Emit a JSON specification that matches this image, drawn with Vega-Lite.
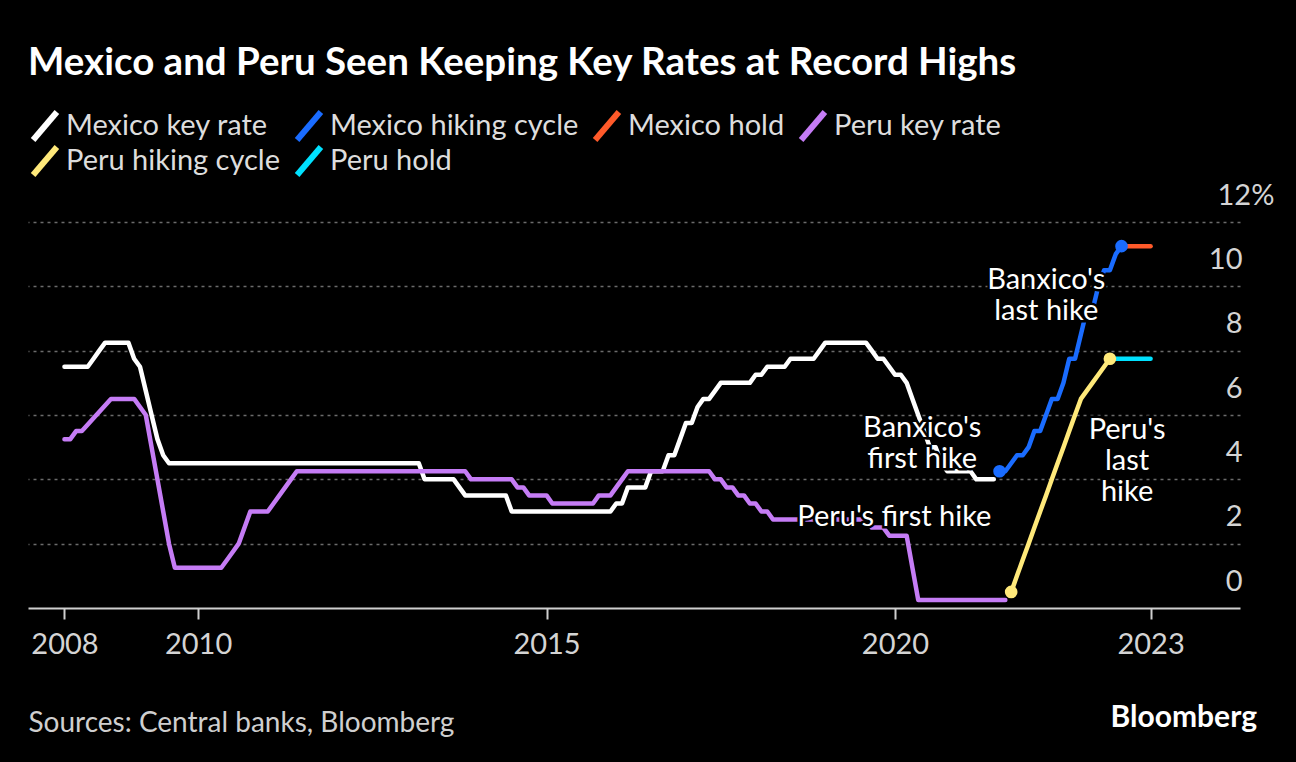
{
  "$schema": "https://vega.github.io/schema/vega-lite/v6.json",
  "width": 1212,
  "height": 386,
  "autosize": {"type": "none"},
  "padding": {"left": 28, "top": 222, "right": 56, "bottom": 154},
  "background": "black",
  "title": {
    "text": "Mexico and Peru Seen Keeping Key Rates at Record Highs",
    "anchor": "start",
    "frame": "group",
    "fontSize": 38.5,
    "fontWeight": "bold",
    "color": "white",
    "offset": 26
  },
  "datasets": {
    "rates": [
      {"series": "Mexico key rate", "t": 2008.083, "v": 7.5},
      {"series": "Mexico key rate", "t": 2008.417, "v": 7.5},
      {"series": "Mexico key rate", "t": 2008.5, "v": 7.75},
      {"series": "Mexico key rate", "t": 2008.583, "v": 8.0},
      {"series": "Mexico key rate", "t": 2008.667, "v": 8.25},
      {"series": "Mexico key rate", "t": 2009.0, "v": 8.25},
      {"series": "Mexico key rate", "t": 2009.083, "v": 7.75},
      {"series": "Mexico key rate", "t": 2009.167, "v": 7.5},
      {"series": "Mexico key rate", "t": 2009.25, "v": 6.75},
      {"series": "Mexico key rate", "t": 2009.333, "v": 6.0},
      {"series": "Mexico key rate", "t": 2009.417, "v": 5.25},
      {"series": "Mexico key rate", "t": 2009.5, "v": 4.75},
      {"series": "Mexico key rate", "t": 2009.583, "v": 4.5},
      {"series": "Mexico key rate", "t": 2013.167, "v": 4.5},
      {"series": "Mexico key rate", "t": 2013.25, "v": 4.0},
      {"series": "Mexico key rate", "t": 2013.667, "v": 4.0},
      {"series": "Mexico key rate", "t": 2013.75, "v": 3.75},
      {"series": "Mexico key rate", "t": 2013.833, "v": 3.5},
      {"series": "Mexico key rate", "t": 2014.417, "v": 3.5},
      {"series": "Mexico key rate", "t": 2014.5, "v": 3.0},
      {"series": "Mexico key rate", "t": 2015.917, "v": 3.0},
      {"series": "Mexico key rate", "t": 2016.0, "v": 3.25},
      {"series": "Mexico key rate", "t": 2016.083, "v": 3.25},
      {"series": "Mexico key rate", "t": 2016.167, "v": 3.75},
      {"series": "Mexico key rate", "t": 2016.417, "v": 3.75},
      {"series": "Mexico key rate", "t": 2016.5, "v": 4.25},
      {"series": "Mexico key rate", "t": 2016.667, "v": 4.25},
      {"series": "Mexico key rate", "t": 2016.75, "v": 4.75},
      {"series": "Mexico key rate", "t": 2016.833, "v": 4.75},
      {"series": "Mexico key rate", "t": 2016.917, "v": 5.25},
      {"series": "Mexico key rate", "t": 2017.0, "v": 5.75},
      {"series": "Mexico key rate", "t": 2017.083, "v": 5.75},
      {"series": "Mexico key rate", "t": 2017.167, "v": 6.25},
      {"series": "Mexico key rate", "t": 2017.25, "v": 6.5},
      {"series": "Mexico key rate", "t": 2017.333, "v": 6.5},
      {"series": "Mexico key rate", "t": 2017.417, "v": 6.75},
      {"series": "Mexico key rate", "t": 2017.5, "v": 7.0},
      {"series": "Mexico key rate", "t": 2017.917, "v": 7.0},
      {"series": "Mexico key rate", "t": 2018.0, "v": 7.25},
      {"series": "Mexico key rate", "t": 2018.083, "v": 7.25},
      {"series": "Mexico key rate", "t": 2018.167, "v": 7.5},
      {"series": "Mexico key rate", "t": 2018.417, "v": 7.5},
      {"series": "Mexico key rate", "t": 2018.5, "v": 7.75},
      {"series": "Mexico key rate", "t": 2018.833, "v": 7.75},
      {"series": "Mexico key rate", "t": 2018.917, "v": 8.0},
      {"series": "Mexico key rate", "t": 2019.0, "v": 8.25},
      {"series": "Mexico key rate", "t": 2019.583, "v": 8.25},
      {"series": "Mexico key rate", "t": 2019.667, "v": 8.0},
      {"series": "Mexico key rate", "t": 2019.75, "v": 7.75},
      {"series": "Mexico key rate", "t": 2019.833, "v": 7.75},
      {"series": "Mexico key rate", "t": 2019.917, "v": 7.5},
      {"series": "Mexico key rate", "t": 2020.0, "v": 7.25},
      {"series": "Mexico key rate", "t": 2020.083, "v": 7.25},
      {"series": "Mexico key rate", "t": 2020.167, "v": 7.0},
      {"series": "Mexico key rate", "t": 2020.25, "v": 6.5},
      {"series": "Mexico key rate", "t": 2020.333, "v": 6.0},
      {"series": "Mexico key rate", "t": 2020.417, "v": 5.5},
      {"series": "Mexico key rate", "t": 2020.5, "v": 5.0},
      {"series": "Mexico key rate", "t": 2020.583, "v": 5.0},
      {"series": "Mexico key rate", "t": 2020.667, "v": 4.5},
      {"series": "Mexico key rate", "t": 2020.75, "v": 4.25},
      {"series": "Mexico key rate", "t": 2021.083, "v": 4.25},
      {"series": "Mexico key rate", "t": 2021.167, "v": 4.0},
      {"series": "Mexico key rate", "t": 2021.417, "v": 4.0},
      {"series": "Peru key rate", "t": 2008.083, "v": 5.25},
      {"series": "Peru key rate", "t": 2008.167, "v": 5.25},
      {"series": "Peru key rate", "t": 2008.25, "v": 5.5},
      {"series": "Peru key rate", "t": 2008.333, "v": 5.5},
      {"series": "Peru key rate", "t": 2008.75, "v": 6.5},
      {"series": "Peru key rate", "t": 2009.083, "v": 6.5},
      {"series": "Peru key rate", "t": 2009.167, "v": 6.25},
      {"series": "Peru key rate", "t": 2009.25, "v": 6.0},
      {"series": "Peru key rate", "t": 2009.333, "v": 5.0},
      {"series": "Peru key rate", "t": 2009.417, "v": 4.0},
      {"series": "Peru key rate", "t": 2009.5, "v": 3.0},
      {"series": "Peru key rate", "t": 2009.583, "v": 2.0},
      {"series": "Peru key rate", "t": 2009.667, "v": 1.25},
      {"series": "Peru key rate", "t": 2010.333, "v": 1.25},
      {"series": "Peru key rate", "t": 2010.417, "v": 1.5},
      {"series": "Peru key rate", "t": 2010.5, "v": 1.75},
      {"series": "Peru key rate", "t": 2010.583, "v": 2.0},
      {"series": "Peru key rate", "t": 2010.667, "v": 2.5},
      {"series": "Peru key rate", "t": 2010.75, "v": 3.0},
      {"series": "Peru key rate", "t": 2011.0, "v": 3.0},
      {"series": "Peru key rate", "t": 2011.083, "v": 3.25},
      {"series": "Peru key rate", "t": 2011.167, "v": 3.5},
      {"series": "Peru key rate", "t": 2011.25, "v": 3.75},
      {"series": "Peru key rate", "t": 2011.333, "v": 4.0},
      {"series": "Peru key rate", "t": 2011.417, "v": 4.25},
      {"series": "Peru key rate", "t": 2013.833, "v": 4.25},
      {"series": "Peru key rate", "t": 2013.917, "v": 4.0},
      {"series": "Peru key rate", "t": 2014.5, "v": 4.0},
      {"series": "Peru key rate", "t": 2014.583, "v": 3.75},
      {"series": "Peru key rate", "t": 2014.667, "v": 3.75},
      {"series": "Peru key rate", "t": 2014.75, "v": 3.5},
      {"series": "Peru key rate", "t": 2015.0, "v": 3.5},
      {"series": "Peru key rate", "t": 2015.083, "v": 3.25},
      {"series": "Peru key rate", "t": 2015.667, "v": 3.25},
      {"series": "Peru key rate", "t": 2015.75, "v": 3.5},
      {"series": "Peru key rate", "t": 2015.917, "v": 3.5},
      {"series": "Peru key rate", "t": 2016.0, "v": 3.75},
      {"series": "Peru key rate", "t": 2016.083, "v": 4.0},
      {"series": "Peru key rate", "t": 2016.167, "v": 4.25},
      {"series": "Peru key rate", "t": 2017.333, "v": 4.25},
      {"series": "Peru key rate", "t": 2017.417, "v": 4.0},
      {"series": "Peru key rate", "t": 2017.5, "v": 4.0},
      {"series": "Peru key rate", "t": 2017.583, "v": 3.75},
      {"series": "Peru key rate", "t": 2017.667, "v": 3.75},
      {"series": "Peru key rate", "t": 2017.75, "v": 3.5},
      {"series": "Peru key rate", "t": 2017.833, "v": 3.5},
      {"series": "Peru key rate", "t": 2017.917, "v": 3.25},
      {"series": "Peru key rate", "t": 2018.0, "v": 3.25},
      {"series": "Peru key rate", "t": 2018.083, "v": 3.0},
      {"series": "Peru key rate", "t": 2018.167, "v": 3.0},
      {"series": "Peru key rate", "t": 2018.25, "v": 2.75},
      {"series": "Peru key rate", "t": 2019.583, "v": 2.75},
      {"series": "Peru key rate", "t": 2019.667, "v": 2.5},
      {"series": "Peru key rate", "t": 2019.833, "v": 2.5},
      {"series": "Peru key rate", "t": 2019.917, "v": 2.25},
      {"series": "Peru key rate", "t": 2020.167, "v": 2.25},
      {"series": "Peru key rate", "t": 2020.25, "v": 1.25},
      {"series": "Peru key rate", "t": 2020.333, "v": 0.25},
      {"series": "Peru key rate", "t": 2021.583, "v": 0.25},
      {"series": "Mexico hiking cycle", "t": 2021.5, "v": 4.25},
      {"series": "Mexico hiking cycle", "t": 2021.583, "v": 4.25},
      {"series": "Mexico hiking cycle", "t": 2021.667, "v": 4.5},
      {"series": "Mexico hiking cycle", "t": 2021.75, "v": 4.75},
      {"series": "Mexico hiking cycle", "t": 2021.833, "v": 4.75},
      {"series": "Mexico hiking cycle", "t": 2021.917, "v": 5.0},
      {"series": "Mexico hiking cycle", "t": 2022.0, "v": 5.5},
      {"series": "Mexico hiking cycle", "t": 2022.083, "v": 5.5},
      {"series": "Mexico hiking cycle", "t": 2022.167, "v": 6.0},
      {"series": "Mexico hiking cycle", "t": 2022.25, "v": 6.5},
      {"series": "Mexico hiking cycle", "t": 2022.333, "v": 6.5},
      {"series": "Mexico hiking cycle", "t": 2022.417, "v": 7.0},
      {"series": "Mexico hiking cycle", "t": 2022.5, "v": 7.75},
      {"series": "Mexico hiking cycle", "t": 2022.583, "v": 7.75},
      {"series": "Mexico hiking cycle", "t": 2022.667, "v": 8.5},
      {"series": "Mexico hiking cycle", "t": 2022.75, "v": 9.25},
      {"series": "Mexico hiking cycle", "t": 2022.833, "v": 9.25},
      {"series": "Mexico hiking cycle", "t": 2022.917, "v": 10.0},
      {"series": "Mexico hiking cycle", "t": 2023.0, "v": 10.5},
      {"series": "Mexico hiking cycle", "t": 2023.083, "v": 10.5},
      {"series": "Mexico hiking cycle", "t": 2023.167, "v": 11.0},
      {"series": "Mexico hiking cycle", "t": 2023.25, "v": 11.25},
      {"series": "Mexico hold", "t": 2023.25, "v": 11.25},
      {"series": "Mexico hold", "t": 2023.667, "v": 11.25},
      {"series": "Peru hiking cycle", "t": 2021.667, "v": 0.5},
      {"series": "Peru hiking cycle", "t": 2021.75, "v": 1.0},
      {"series": "Peru hiking cycle", "t": 2021.833, "v": 1.5},
      {"series": "Peru hiking cycle", "t": 2021.917, "v": 2.0},
      {"series": "Peru hiking cycle", "t": 2022.0, "v": 2.5},
      {"series": "Peru hiking cycle", "t": 2022.083, "v": 3.0},
      {"series": "Peru hiking cycle", "t": 2022.167, "v": 3.5},
      {"series": "Peru hiking cycle", "t": 2022.25, "v": 4.0},
      {"series": "Peru hiking cycle", "t": 2022.333, "v": 4.5},
      {"series": "Peru hiking cycle", "t": 2022.417, "v": 5.0},
      {"series": "Peru hiking cycle", "t": 2022.5, "v": 5.5},
      {"series": "Peru hiking cycle", "t": 2022.583, "v": 6.0},
      {"series": "Peru hiking cycle", "t": 2022.667, "v": 6.5},
      {"series": "Peru hiking cycle", "t": 2022.75, "v": 6.75},
      {"series": "Peru hiking cycle", "t": 2022.833, "v": 7.0},
      {"series": "Peru hiking cycle", "t": 2022.917, "v": 7.25},
      {"series": "Peru hiking cycle", "t": 2023.0, "v": 7.5},
      {"series": "Peru hiking cycle", "t": 2023.083, "v": 7.75},
      {"series": "Peru hold", "t": 2023.083, "v": 7.75},
      {"series": "Peru hold", "t": 2023.667, "v": 7.75}
    ],
    "dots": [
      {"series": "Mexico hiking cycle", "t": 2021.5, "v": 4.25},
      {"series": "Mexico hiking cycle", "t": 2023.25, "v": 11.25},
      {"series": "Peru hiking cycle", "t": 2021.667, "v": 0.5},
      {"series": "Peru hiking cycle", "t": 2023.083, "v": 7.75}
    ],
    "notes": [
      {"note": "Banxico's\nlast hike", "t": 2022.17, "v": 10.2},
      {"note": "Banxico's\nfirst hike", "t": 2020.39, "v": 5.6},
      {"note": "Peru's\nlast\nhike", "t": 2023.33, "v": 5.54},
      {"note": "Peru's first hike", "t": 2019.99, "v": 2.84}
    ],
    "brand": [
      {"brand": "Bloomberg", "t": 2024.95, "v": 0}
    ]
  },
  "encoding": {
    "x": {
      "field": "t",
      "type": "quantitative",
      "scale": {"domain": [2007.56, 2024.95], "nice": false, "zero": false},
      "axis": {
        "values": [2008.083, 2010, 2015, 2020, 2023.667],
        "labelExpr": "'' + floor(datum.value)",
        "grid": false,
        "domainColor": "#cfcfcf",
        "domainWidth": 2,
        "tickColor": "#cfcfcf",
        "tickWidth": 2,
        "tickSize": 11,
        "labelColor": "#d4d4d4",
        "labelFontSize": 29,
        "labelPadding": 11,
        "labelFlush": false,
        "title": "Sources: Central banks, Bloomberg",
        "titleAnchor": "start",
        "titleAlign": "left",
        "titleFontSize": 28,
        "titleFontWeight": "normal",
        "titleColor": "#cfcfcf",
        "titlePadding": 50,
        "zindex": 1
      }
    },
    "y": {
      "field": "v",
      "type": "quantitative",
      "scale": {"domain": [0, 12], "nice": false},
      "axis": {
        "orient": "right",
        "values": [0, 2, 4, 6, 8, 10, 12],
        "labelExpr": "datum.value == 12 ? '12%' : datum.label",
        "domain": false,
        "ticks": false,
        "tickSize": 0,
        "grid": true,
        "gridColor": "#6b6b6b",
        "gridDash": [3, 4],
        "gridWidth": 1.5,
        "gridOpacity": {"condition": {"test": "datum.value == 0", "value": 0}, "value": 1},
        "labelAlign": {"condition": {"test": "datum.value == 12", "value": "left"}, "value": "right"},
        "labelPadding": {"condition": {"test": "datum.value == 12", "value": -23}, "value": 2},
        "labelBaseline": "alphabetic",
        "labelOffset": -18,
        "labelColor": "#d4d4d4",
        "labelFontSize": 29,
        "title": null
      }
    }
  },
  "layer": [
    {
      "data": {"name": "rates"},
      "mark": {"type": "line", "strokeWidth": 4.5, "strokeCap": "round", "strokeJoin": "round"},
      "encoding": {
        "color": {
          "field": "series",
          "type": "nominal",
          "scale": {
            "domain": ["Mexico key rate", "Mexico hiking cycle", "Mexico hold", "Peru key rate", "Peru hiking cycle", "Peru hold"],
            "range": ["#ffffff", "#1a6cff", "#ff5a2a", "#c57cf5", "#ffe97a", "#00e1ff"]
          },
          "legend": {
            "orient": "none",
            "legendX": 0,
            "legendY": -113,
            "direction": "horizontal",
            "columns": 4,
            "gridAlign": "none",
            "title": null,
            "padding": 0,
            "symbolType": "M-0.85,1L0.85,-1",
            "symbolSize": 784,
            "symbolStrokeWidth": 6,
            "labelOffset": 4,
            "columnPadding": 4,
            "rowPadding": -17,
            "labelFontSize": 29,
            "labelColor": "#dddddd",
            "labelLimit": 400
          }
        }
      }
    },
    {
      "data": {"name": "dots"},
      "mark": {"type": "circle", "size": 160, "opacity": 1},
      "encoding": {
        "color": {"field": "series", "type": "nominal"}
      }
    },
    {
      "data": {"name": "notes"},
      "mark": {"type": "text", "align": "center", "baseline": "middle", "lineBreak": "\n", "lineHeight": 31, "fontSize": 29, "color": "black", "stroke": "black", "strokeWidth": 5},
      "encoding": {"text": {"field": "note"}}
    },
    {
      "data": {"name": "notes"},
      "mark": {"type": "text", "align": "center", "baseline": "middle", "lineBreak": "\n", "lineHeight": 31, "fontSize": 29, "color": "white"},
      "encoding": {"text": {"field": "note"}}
    },
    {
      "data": {"name": "brand"},
      "mark": {"type": "text", "align": "right", "baseline": "middle", "dx": 17, "dy": 110, "fontSize": 30, "fontWeight": "bold", "color": "white", "clip": false},
      "encoding": {"text": {"field": "brand"}}
    }
  ],
  "config": {
    "font": "Lato",
    "view": {"stroke": null}
  }
}
